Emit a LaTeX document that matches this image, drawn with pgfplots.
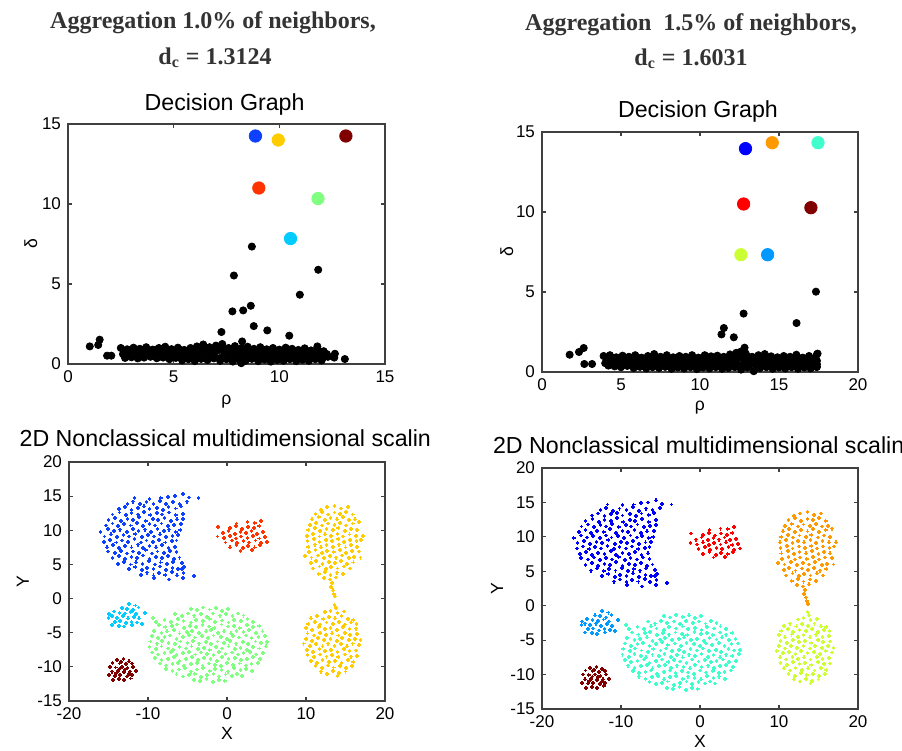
\documentclass[border=0pt]{standalone}
\usepackage{pgfplots}
\usepackage{pgfplotstable}
\pgfplotsset{compat=1.18}
\usepackage{fontspec}
\setmainfont{Liberation Sans}
\newfontfamily\headfont{Liberation Serif}

% left column colours
\definecolor{cblue}{rgb}{0.05,0.25,1}
\definecolor{cyel}{rgb}{1,0.8,0}
\definecolor{cdred}{rgb}{0.5,0,0}
\definecolor{cred}{rgb}{1,0.2,0}
\definecolor{cgreen}{rgb}{0.5,1,0.5}
\definecolor{ccyan}{rgb}{0,0.8,1}
% right column colours
\definecolor{bblue}{rgb}{0,0,1}
\definecolor{borange}{rgb}{1,0.6,0}
\definecolor{baqua}{rgb}{0.25,1,0.8}
\definecolor{bred}{rgb}{1,0,0}
\definecolor{bygreen}{rgb}{0.8,1,0.2}
\definecolor{blblue}{rgb}{0,0.6,1}
\definecolor{headgray}{rgb}{0.2,0.2,0.2}

\pgfplotsset{
  mat/.style={
    scale only axis, anchor=north west,
    axis line style={line width=0.7pt, black!75},
    every tick/.style={line width=0.6pt, black!75},
    major tick length=2pt,
    tick align=inside,
    ticklabel style={font=\fontsize{8.5}{10}\selectfont},
    /pgf/number format/assume math mode=true,
    label style={font=\fontsize{8.8}{10}\selectfont},
  },
  dg/.style={only marks, mark=*, mark size=1.8pt, black},
  ctr/.style={only marks, mark=*, mark size=3.1pt, color=#1, mark options={draw=#1, fill=#1}},
  mds/.style={only marks, mark=+, mark size=0.95pt, color=#1, mark options={line width=0.85pt}},
}

% ---------- decision graph, 1.0% ----------
\pgfplotstableread[row sep=\\]{
x y\\
2.5 1.00\\ 2.8 0.92\\ 3.1 1.02\\ 3.4 0.95\\ 3.7 1.05\\ 4.0 0.90\\ 4.3 1.00\\ 4.6 1.08\\ 4.9 0.93\\ 5.2 1.02\\ 5.5 0.88\\
5.8 1.00\\ 6.1 1.10\\ 6.4 1.22\\ 6.7 1.05\\ 7.0 1.15\\ 7.3 1.25\\ 7.6 1.00\\ 7.9 1.12\\ 8.2 0.98\\ 8.5 1.08\\ 8.8 0.95\\
9.1 1.05\\ 9.4 0.92\\ 9.7 1.00\\ 10.0 0.90\\ 10.3 1.02\\ 10.6 0.95\\ 10.9 0.88\\ 11.2 0.98\\ 11.5 0.85\\ 11.8 0.92\\ 12.1 0.80\\
2.65 0.82\\ 2.95 0.85\\ 3.25 0.78\\ 3.55 0.86\\ 3.85 0.80\\ 4.15 0.88\\ 4.45 0.78\\ 4.75 0.84\\ 5.05 0.80\\ 5.35 0.86\\ 5.65 0.78\\
5.95 0.90\\ 6.25 0.95\\ 6.55 1.00\\ 6.85 0.92\\ 7.15 1.02\\ 7.45 0.90\\ 7.75 0.95\\ 8.05 0.85\\ 8.35 0.92\\ 8.65 0.82\\ 8.95 0.86\\
9.25 0.80\\ 9.55 0.85\\ 9.85 0.78\\ 10.15 0.82\\ 10.45 0.76\\ 10.75 0.80\\ 11.05 0.74\\ 11.35 0.78\\ 11.65 0.70\\ 11.95 0.75\\ 12.25 0.62\\
2.6 0.62\\ 2.9 0.70\\ 3.2 0.55\\ 3.5 0.68\\ 3.8 0.60\\ 4.1 0.72\\ 4.4 0.58\\ 4.7 0.66\\ 5.0 0.55\\ 5.3 0.70\\ 5.6 0.62\\
5.9 0.75\\ 6.2 0.58\\ 6.5 0.80\\ 6.8 0.65\\ 7.1 0.85\\ 7.4 0.70\\ 7.7 0.78\\ 8.0 0.62\\ 8.3 0.74\\ 8.6 0.60\\ 8.9 0.68\\
9.2 0.55\\ 9.5 0.66\\ 9.8 0.58\\ 10.1 0.64\\ 10.4 0.52\\ 10.7 0.62\\ 11.0 0.55\\ 11.3 0.60\\ 11.6 0.50\\ 11.9 0.58\\ 12.3 0.45\\
2.75 0.50\\ 3.05 0.55\\ 3.35 0.48\\ 3.65 0.52\\ 3.95 0.55\\ 4.25 0.50\\ 4.55 0.52\\ 4.85 0.45\\ 5.15 0.48\\ 5.45 0.42\\ 5.75 0.48\\
6.05 0.40\\ 6.35 0.46\\ 6.65 0.42\\ 6.95 0.50\\ 7.25 0.40\\ 7.55 0.48\\ 7.85 0.38\\ 8.15 0.45\\ 8.45 0.40\\ 8.75 0.46\\ 9.05 0.38\\
9.35 0.44\\ 9.65 0.36\\ 9.95 0.42\\ 10.25 0.38\\ 10.55 0.44\\ 10.85 0.36\\ 11.15 0.42\\ 11.45 0.35\\ 11.75 0.40\\ 12.05 0.36\\
2.7 0.38\\ 3.0 0.42\\ 3.3 0.35\\ 3.6 0.40\\ 3.9 0.45\\ 4.2 0.36\\ 4.5 0.40\\ 4.8 0.30\\ 5.1 0.38\\ 5.4 0.22\\ 5.7 0.30\\
6.0 0.18\\ 6.3 0.32\\ 6.6 0.25\\ 6.9 0.35\\ 7.2 0.20\\ 7.5 0.30\\ 7.8 0.15\\ 8.1 0.28\\ 8.2 0.05\\ 8.4 0.20\\ 8.7 0.32\\
9.0 0.18\\ 9.3 0.28\\ 9.6 0.15\\ 9.9 0.25\\ 10.2 0.20\\ 10.5 0.30\\ 10.8 0.18\\ 11.1 0.26\\ 11.4 0.20\\ 11.7 0.30\\ 12.0 0.22\\
8.70 7.34\\ 7.85 5.53\\ 11.84 5.89\\ 10.97 4.33\\ 7.78 3.29\\ 8.29 3.35\\ 8.65 3.64\\ 8.79 2.37\\ 9.43 2.10\\ 7.26 2.00\\
10.47 1.77\\ 8.24 1.41\\ 11.80 1.10\\ 1.50 1.52\\ 1.03 1.10\\ 1.43 1.19\\ 1.85 0.52\\ 2.05 0.52\\ 12.63 0.64\\ 13.10 0.31\\ 12.6 0.40\\
}\tlband

% ---------- decision graph, 1.5% ----------
\pgfplotstableread[row sep=\\]{
x y\\
3.9 1.00\\ 4.3 1.05\\ 4.7 0.92\\ 5.1 1.02\\ 5.5 0.95\\ 5.9 1.05\\ 6.3 0.90\\ 6.7 1.00\\ 7.1 1.12\\ 7.5 0.95\\ 7.9 1.05\\ 8.3 0.92\\
8.7 1.00\\ 9.1 0.95\\ 9.5 1.05\\ 9.9 0.90\\ 10.3 1.05\\ 10.7 0.98\\ 11.1 1.02\\ 11.5 0.95\\ 11.9 1.10\\ 12.3 1.20\\ 12.6 1.28\\ 12.9 1.15\\
13.3 0.95\\ 13.7 1.05\\ 14.1 1.12\\ 14.5 0.98\\ 14.9 0.92\\ 15.3 1.00\\ 15.7 0.95\\ 16.1 1.08\\ 16.5 0.90\\ 16.9 1.00\\ 17.4 1.10\\
4.1 0.80\\ 4.5 0.85\\ 4.9 0.78\\ 5.3 0.86\\ 5.7 0.80\\ 6.1 0.88\\ 6.5 0.78\\ 6.9 0.84\\ 7.3 0.80\\ 7.7 0.86\\ 8.1 0.78\\ 8.5 0.88\\
8.9 0.80\\ 9.3 0.84\\ 9.7 0.78\\ 10.1 0.86\\ 10.5 0.80\\ 10.9 0.88\\ 11.3 0.82\\ 11.7 0.90\\ 12.1 0.98\\ 12.5 1.05\\ 12.9 0.92\\ 13.3 0.80\\
13.7 0.86\\ 14.1 0.82\\ 14.5 0.84\\ 14.9 0.78\\ 15.3 0.82\\ 15.7 0.76\\ 16.1 0.84\\ 16.5 0.78\\ 16.9 0.82\\ 17.3 0.88\\
4.0 0.55\\ 4.4 0.68\\ 4.8 0.60\\ 5.2 0.72\\ 5.6 0.58\\ 6.0 0.66\\ 6.4 0.55\\ 6.8 0.70\\ 7.2 0.62\\ 7.6 0.75\\ 8.0 0.58\\ 8.4 0.66\\
8.8 0.55\\ 9.2 0.70\\ 9.6 0.62\\ 10.0 0.68\\ 10.4 0.55\\ 10.8 0.72\\ 11.2 0.60\\ 11.6 0.70\\ 12.0 0.78\\ 12.4 0.85\\ 12.8 0.70\\ 13.2 0.62\\
13.6 0.70\\ 14.0 0.58\\ 14.4 0.66\\ 14.8 0.55\\ 15.2 0.62\\ 15.6 0.52\\ 16.0 0.60\\ 16.4 0.55\\ 16.8 0.62\\ 17.2 0.58\\ 17.4 0.70\\
4.3 0.45\\ 4.7 0.50\\ 5.1 0.42\\ 5.5 0.48\\ 5.9 0.44\\ 6.3 0.50\\ 6.7 0.40\\ 7.1 0.46\\ 7.5 0.42\\ 7.9 0.48\\ 8.3 0.40\\ 8.7 0.46\\
9.1 0.42\\ 9.5 0.48\\ 9.9 0.40\\ 10.3 0.46\\ 10.7 0.42\\ 11.1 0.48\\ 11.5 0.40\\ 11.9 0.46\\ 12.3 0.52\\ 12.7 0.45\\ 13.1 0.40\\ 13.5 0.44\\
13.9 0.40\\ 14.3 0.46\\ 14.7 0.40\\ 15.1 0.44\\ 15.5 0.38\\ 15.9 0.44\\ 16.3 0.40\\ 16.7 0.44\\ 17.1 0.40\\ 17.4 0.48\\
4.2 0.40\\ 4.6 0.35\\ 5.0 0.30\\ 5.4 0.38\\ 5.8 0.25\\ 6.2 0.32\\ 6.6 0.22\\ 7.0 0.30\\ 7.4 0.25\\ 7.8 0.32\\ 8.2 0.20\\ 8.6 0.28\\
9.0 0.22\\ 9.4 0.30\\ 9.8 0.18\\ 10.2 0.28\\ 10.6 0.22\\ 11.0 0.30\\ 11.4 0.20\\ 11.8 0.25\\ 12.2 0.30\\ 12.6 0.15\\ 13.0 0.28\\ 13.4 0.05\\
13.8 0.25\\ 14.2 0.30\\ 14.6 0.20\\ 15.0 0.28\\ 15.4 0.22\\ 15.8 0.30\\ 16.2 0.20\\ 16.6 0.28\\ 17.0 0.22\\ 17.4 0.32\\
17.34 5.02\\ 12.76 3.65\\ 16.11 3.06\\ 11.51 2.75\\ 11.36 2.35\\ 12.14 2.17\\ 12.82 1.52\\ 1.75 1.08\\ 2.34 1.25\\ 2.64 1.50\\
2.68 0.50\\ 3.17 0.50\\ 17.44 1.15\\ 17.38 0.31\\
}\trband

% ---------- MDS clusters (same points in both runs) ----------
\pgfplotstableread[row sep=\\]{
x y\\
-11.7 14.7\\ -9.8 14.6\\ -8.4 14.7\\ -7.5 14.9\\ -6.6 15.0\\ -5.6 15.3\\ -4.8 14.8\\ -3.6 14.7\\
-12.6 13.9\\ -11.9 14.2\\ -11.0 13.8\\ -10.2 14.1\\ -9.3 13.9\\ -8.5 14.3\\ -7.7 13.8\\ -6.8 14.1\\ -6.0 13.9\\ -5.1 14.2\\
-13.7 13.1\\ -12.9 13.4\\ -12.1 13.0\\ -11.3 13.3\\ -10.5 13.5\\ -9.8 13.1\\ -8.9 13.3\\ -8.1 13.0\\ -7.4 13.4\\ -6.5 13.2\\ -5.8 13.5\\
-14.5 12.3\\ -13.6 12.6\\ -12.8 12.2\\ -12.1 12.5\\ -11.3 12.3\\ -10.5 12.7\\ -9.7 12.2\\ -8.9 12.5\\ -8.2 12.3\\ -7.3 12.6\\ -6.5 12.2\\ -5.6 12.4\\
-15.0 11.5\\ -14.2 11.8\\ -13.4 11.4\\ -12.6 11.7\\ -11.9 11.5\\ -11.1 11.9\\ -10.3 11.4\\ -9.4 11.7\\ -8.7 11.5\\ -7.9 11.8\\ -7.1 11.4\\ -6.3 11.6\\ -5.6 11.7\\
-15.3 10.7\\ -14.5 11.0\\ -13.8 10.6\\ -13.0 10.9\\ -12.2 10.7\\ -11.4 11.1\\ -10.6 10.6\\ -9.8 10.9\\ -9.1 10.7\\ -8.3 11.0\\ -7.5 10.6\\ -6.7 10.8\\ -5.8 10.9\\
-16.0 9.8\\ -15.1 10.2\\ -14.3 9.9\\ -13.5 10.1\\ -12.7 9.8\\ -11.9 10.2\\ -11.2 9.9\\ -10.4 10.1\\ -9.6 9.8\\ -8.8 10.2\\ -8.0 9.9\\ -7.3 10.1\\ -6.5 9.8\\ -5.9 10.0\\
-15.5 9.1\\ -14.7 9.4\\ -13.9 9.0\\ -13.1 9.3\\ -12.4 9.1\\ -11.6 9.5\\ -10.8 9.0\\ -10.0 9.3\\ -9.2 9.1\\ -8.5 9.4\\ -7.7 9.0\\ -6.9 9.2\\ -6.2 9.3\\
-15.6 8.3\\ -14.8 8.6\\ -14.0 8.2\\ -13.3 8.5\\ -12.5 8.3\\ -11.7 8.7\\ -10.9 8.2\\ -10.2 8.5\\ -9.4 8.3\\ -8.6 8.6\\ -7.8 8.2\\ -7.0 8.4\\ -6.4 8.5\\
-15.2 7.5\\ -14.4 7.8\\ -13.7 7.4\\ -12.9 7.7\\ -12.1 7.5\\ -11.3 7.9\\ -10.6 7.4\\ -9.8 7.7\\ -9.0 7.5\\ -8.2 7.8\\ -7.4 7.4\\ -6.6 7.6\\
-15.1 6.9\\ -14.2 6.7\\ -13.4 7.0\\ -12.7 6.6\\ -11.9 6.9\\ -11.1 6.7\\ -10.3 7.1\\ -9.5 6.6\\ -8.8 6.9\\ -8.0 6.7\\ -7.2 7.0\\ -6.4 6.8\\
-14.5 5.9\\ -13.7 6.2\\ -12.9 5.8\\ -12.1 6.1\\ -11.4 5.9\\ -10.6 6.3\\ -9.8 5.8\\ -9.0 6.1\\ -8.2 5.9\\ -7.5 6.2\\ -6.7 5.8\\ -6.0 6.0\\
-13.8 5.1\\ -13.0 5.4\\ -12.2 5.0\\ -11.5 5.3\\ -10.7 5.1\\ -9.9 5.5\\ -9.1 5.0\\ -8.4 5.3\\ -7.6 5.1\\ -6.8 5.4\\ -5.7 5.2\\
-12.4 4.3\\ -11.6 4.6\\ -10.8 4.2\\ -10.1 4.5\\ -9.3 4.3\\ -8.5 4.7\\ -7.7 4.2\\ -6.9 4.5\\ -6.2 4.3\\ -5.4 4.6\\ -5.7 4.3\\
-10.9 3.5\\ -10.1 3.8\\ -9.3 3.4\\ -8.6 3.7\\ -7.8 3.5\\ -7.0 3.9\\ -6.3 3.4\\ -5.5 3.7\\ -4.2 3.3\\
-9.2 3.0\\ -7.3 2.8\\ -5.6 3.0\\
}\cblueT

\pgfplotstableread[row sep=\\]{
x y\\
1.2 11.0\\ 2.6 11.2\\ 3.5 11.1\\ 4.3 11.4\\
-1.1 10.5\\ 0.4 10.3\\ 1.1 10.6\\ 1.9 10.2\\ 2.7 10.5\\ 3.4 10.3\\ 4.1 10.6\\
-0.5 9.6\\ 0.2 9.9\\ 1.0 9.5\\ 1.7 9.8\\ 2.4 9.6\\ 3.1 9.9\\ 3.8 9.5\\ 4.6 9.7\\
-1.2 9.1\\ -0.4 8.9\\ 0.4 9.2\\ 1.1 8.8\\ 1.8 9.1\\ 2.6 8.9\\ 3.3 9.2\\ 4.1 8.8\\ 4.8 9.0\\
-0.2 8.2\\ 0.6 8.5\\ 1.3 8.1\\ 2.1 8.4\\ 2.8 8.2\\ 3.6 8.5\\ 4.3 8.1\\ 5.1 8.3\\
0.4 7.5\\ 1.2 7.8\\ 2.0 7.4\\ 2.7 7.7\\ 3.5 7.5\\ 4.2 7.8\\
1.7 7.0\\ 3.2 7.1\\
}\credT

\pgfplotstableread[row sep=\\]{
x y\\
11.9 13.0\\ 12.7 13.4\\ 13.6 13.6\\ 14.4 13.2\\ 15.3 13.4\\
11.2 12.4\\ 12.0 12.7\\ 12.8 12.3\\ 13.6 12.6\\ 14.3 12.4\\ 15.1 12.7\\ 15.9 12.3\\
10.8 11.6\\ 11.6 11.9\\ 12.4 11.5\\ 13.1 11.8\\ 13.9 11.6\\ 14.7 11.9\\ 15.4 11.5\\ 16.2 11.6\\
10.5 10.8\\ 11.3 11.1\\ 12.0 10.7\\ 12.8 11.0\\ 13.6 10.8\\ 14.3 11.1\\ 15.1 10.7\\ 15.9 11.0\\ 16.7 11.2\\
10.3 10.0\\ 11.1 10.3\\ 11.8 9.9\\ 12.6 10.2\\ 13.4 10.0\\ 14.1 10.3\\ 14.9 9.9\\ 15.7 10.2\\ 16.5 10.0\\
10.1 9.2\\ 10.9 9.5\\ 11.7 9.1\\ 12.4 9.4\\ 13.2 9.2\\ 14.0 9.5\\ 14.7 9.1\\ 15.5 9.4\\ 16.3 9.2\\ 17.2 9.2\\
10.2 8.4\\ 11.0 8.7\\ 11.7 8.3\\ 12.5 8.6\\ 13.3 8.4\\ 14.1 8.7\\ 14.8 8.3\\ 15.6 8.6\\ 16.4 8.4\\ 17.0 8.6\\
10.3 7.6\\ 11.1 7.9\\ 11.9 7.5\\ 12.6 7.8\\ 13.4 7.6\\ 14.2 7.9\\ 15.0 7.5\\ 15.7 7.8\\ 16.5 7.6\\
10.4 6.8\\ 11.2 7.1\\ 12.0 6.7\\ 12.7 7.0\\ 13.5 6.8\\ 14.3 7.1\\ 15.1 6.7\\ 15.8 7.0\\ 16.7 6.9\\
9.9 6.2\\ 10.7 6.0\\ 11.5 6.3\\ 12.3 5.9\\ 13.0 6.2\\ 13.8 6.0\\ 14.6 6.3\\ 15.4 5.9\\ 16.1 6.1\\ 16.9 6.0\\
10.6 5.2\\ 11.3 5.5\\ 12.1 5.1\\ 12.9 5.4\\ 13.7 5.2\\ 14.4 5.5\\ 15.2 5.1\\ 16.0 5.3\\
10.9 4.4\\ 11.7 4.7\\ 12.5 4.3\\ 13.2 4.6\\ 14.0 4.4\\ 14.8 4.7\\ 15.6 4.4\\
11.6 3.6\\ 12.4 3.9\\ 13.1 3.5\\ 13.9 3.8\\ 14.7 3.6\\
12.3 3.0\\ 13.0 2.8\\ 13.8 3.1\\
13.3 2.3\\ 13.2 1.7\\ 13.4 1.2\\ 13.5 0.7\\ 13.7 0.3\\
}\ctopR

\pgfplotstableread[row sep=\\]{
x y\\
13.6 -0.9\\ 13.8 -1.4\\
12.4 -2.0\\ 13.1 -1.8\\ 14.0 -2.1\\ 14.8 -1.9\\
10.6 -2.9\\ 11.4 -2.6\\ 12.2 -3.0\\ 12.9 -2.7\\ 13.7 -2.9\\ 14.5 -2.6\\ 15.3 -3.0\\ 16.0 -3.1\\
10.3 -3.7\\ 11.1 -3.4\\ 11.8 -3.8\\ 12.6 -3.5\\ 13.4 -3.7\\ 14.2 -3.4\\ 14.9 -3.8\\ 15.7 -3.5\\ 16.4 -3.7\\
10.0 -4.3\\ 10.8 -4.6\\ 11.6 -4.2\\ 12.4 -4.5\\ 13.1 -4.3\\ 13.9 -4.6\\ 14.7 -4.2\\ 15.5 -4.5\\ 16.3 -4.4\\
10.2 -5.1\\ 11.0 -5.4\\ 11.8 -5.0\\ 12.5 -5.3\\ 13.3 -5.1\\ 14.1 -5.4\\ 14.9 -5.0\\ 15.6 -5.3\\ 16.5 -5.2\\
10.0 -5.9\\ 10.8 -6.2\\ 11.5 -5.8\\ 12.3 -6.1\\ 13.1 -5.9\\ 13.9 -6.2\\ 14.6 -5.8\\ 15.4 -6.1\\ 16.2 -5.9\\ 16.9 -6.1\\
9.7 -6.6\\ 10.5 -6.9\\ 11.3 -6.7\\ 12.1 -7.0\\ 12.8 -6.6\\ 13.6 -6.9\\ 14.4 -6.7\\ 15.2 -7.0\\ 15.9 -6.6\\ 16.7 -6.8\\
10.1 -7.5\\ 10.9 -7.8\\ 11.7 -7.4\\ 12.4 -7.7\\ 13.2 -7.5\\ 14.0 -7.8\\ 14.8 -7.4\\ 15.5 -7.7\\ 16.3 -7.6\\
10.2 -8.3\\ 11.0 -8.6\\ 11.8 -8.2\\ 12.6 -8.5\\ 13.3 -8.3\\ 14.1 -8.6\\ 14.9 -8.2\\ 15.7 -8.5\\ 16.5 -8.4\\
10.6 -9.1\\ 11.4 -9.4\\ 12.1 -9.0\\ 12.9 -9.3\\ 13.7 -9.1\\ 14.5 -9.4\\ 15.3 -9.0\\ 16.0 -9.3\\
11.2 -9.9\\ 12.0 -10.2\\ 12.8 -9.8\\ 13.5 -10.1\\ 14.3 -9.9\\ 15.1 -10.2\\ 15.8 -9.9\\
11.9 -10.7\\ 12.7 -11.0\\ 13.4 -10.6\\ 14.2 -10.9\\ 15.0 -10.7\\
14.0 -11.3\\
}\cbotR

\pgfplotstableread[row sep=\\]{
x y\\
-12.4 -0.8\\ -11.6 -1.0\\ -13.3 -1.4\\ -12.7 -1.5\\ -11.9 -1.7\\ -11.2 -1.3\\ -14.3 -1.9\\ -13.6 -2.1\\ -12.9 -2.2\\ -12.2 -2.0\\
-11.5 -2.3\\ -10.4 -2.1\\ -15.0 -2.8\\ -14.6 -2.6\\ -13.9 -2.8\\ -13.2 -2.6\\ -12.5 -2.9\\ -11.8 -2.7\\ -11.1 -2.9\\ -14.2 -3.4\\
-13.5 -3.3\\ -12.8 -3.6\\ -12.1 -3.4\\ -11.4 -3.5\\ -10.8 -3.7\\ -14.6 -3.9\\ -13.7 -4.0\\ -13.0 -4.1\\ -12.0 -3.9\\ -14.9 -2.3\\
}\csmall

\pgfplotstableread[row sep=\\]{
x y\\
-13.9 -9.0\\ -13.1 -8.9\\ -12.4 -9.2\\ -14.5 -9.4\\ -13.6 -9.5\\ -12.8 -9.6\\ -12.0 -9.5\\ -14.8 -10.0\\ -14.1 -10.1\\ -13.3 -10.0\\
-12.6 -10.2\\ -11.9 -10.0\\ -11.5 -10.6\\ -14.6 -10.7\\ -13.8 -10.6\\ -13.0 -10.8\\ -12.3 -10.7\\ -14.9 -11.2\\ -14.2 -11.3\\ -13.5 -11.2\\
-12.7 -11.4\\ -12.0 -11.2\\ -14.4 -11.9\\ -13.7 -11.8\\ -13.0 -11.9\\ -12.2 -11.7\\ -13.4 -9.3\\ -12.9 -10.4\\ -13.6 -10.3\\ -14.0 -10.9\\ -12.4 -11.0\\
}\cdr

\pgfplotstableread[row sep=\\]{
x y\\
-4.6 -1.5\\ -3.8 -1.7\\ -3.0 -1.3\\ -2.2 -1.6\\ -1.4 -1.4\\ -0.6 -1.8\\ 0.1 -1.5\\
-6.6 -2.3\\ -5.7 -2.6\\ -4.9 -2.2\\ -4.2 -2.5\\ -3.3 -2.3\\ -2.5 -2.7\\ -1.8 -2.2\\ -0.9 -2.5\\ -0.1 -2.3\\ 0.7 -2.6\\ 1.4 -2.2\\ 2.1 -2.5\\
-9.4 -2.8\\ -9.0 -3.4\\
-7.9 -3.1\\ -7.1 -3.4\\ -6.2 -3.0\\ -5.5 -3.3\\ -4.6 -3.5\\ -3.9 -3.1\\ -3.0 -3.3\\ -2.2 -3.0\\ -1.5 -3.4\\ -0.6 -3.2\\ 0.2 -3.5\\ 0.9 -3.1\\ 1.8 -3.3\\ 2.6 -3.0\\ 3.3 -3.4\\
-8.6 -3.9\\ -7.8 -4.2\\ -7.0 -4.0\\ -6.3 -3.8\\ -5.4 -4.3\\ -4.7 -4.0\\ -3.9 -4.2\\ -3.1 -3.9\\ -2.3 -4.1\\ -1.6 -4.3\\ -0.7 -3.8\\ 0.1 -4.1\\ 0.9 -4.0\\ 1.6 -4.3\\ 2.5 -3.9\\ 3.3 -4.2\\ 4.1 -4.0\\
-9.2 -4.7\\ -8.3 -5.0\\ -7.6 -4.8\\ -6.7 -4.6\\ -6.0 -5.1\\ -5.1 -4.9\\ -4.4 -4.7\\ -3.5 -5.0\\ -2.7 -4.8\\ -2.0 -4.6\\ -1.1 -5.0\\ -0.4 -4.8\\ 0.5 -5.1\\ 1.2 -4.7\\ 2.1 -4.9\\ 2.8 -4.6\\ 3.7 -5.0\\ 4.5 -4.8\\
-9.5 -5.5\\ -8.7 -5.8\\ -7.9 -5.6\\ -7.2 -5.4\\ -6.4 -5.9\\ -5.6 -5.6\\ -4.8 -5.3\\ -4.1 -5.7\\ -3.2 -5.5\\ -2.4 -5.8\\ -1.7 -5.4\\ -0.8 -5.6\\ 0.0 -5.9\\ 0.8 -5.5\\ 1.5 -5.7\\ 2.4 -5.4\\ 3.1 -5.8\\ 4.0 -5.6\\ 4.8 -5.5\\
-9.7 -6.3\\ -8.9 -6.6\\ -8.2 -6.2\\ -7.4 -6.5\\ -6.6 -6.7\\ -5.9 -6.3\\ -5.0 -6.5\\ -4.3 -6.2\\ -3.5 -6.6\\ -2.7 -6.4\\ -2.0 -6.7\\ -1.2 -6.3\\ -0.4 -6.5\\ 0.4 -6.2\\ 1.1 -6.6\\ 2.0 -6.4\\ 2.7 -6.7\\ 3.6 -6.3\\ 4.3 -6.5\\ 5.1 -6.4\\
-9.8 -7.1\\ -9.0 -7.4\\ -8.3 -7.0\\ -7.5 -7.3\\ -6.8 -7.5\\ -6.0 -7.1\\ -5.2 -7.3\\ -4.5 -7.0\\ -3.7 -7.4\\ -2.9 -7.2\\ -2.2 -7.5\\ -1.4 -7.1\\ -0.6 -7.3\\ 0.2 -7.0\\ 1.0 -7.4\\ 1.7 -7.2\\ 2.5 -7.5\\ 3.3 -7.1\\ 4.1 -7.3\\ 4.9 -7.0\\
-9.5 -7.9\\ -8.7 -8.2\\ -7.9 -8.0\\ -7.1 -7.8\\ -6.4 -8.3\\ -5.6 -8.0\\ -4.8 -7.8\\ -4.0 -8.2\\ -3.3 -7.9\\ -2.5 -8.1\\ -1.7 -8.3\\ -1.0 -7.8\\ -0.2 -8.1\\ 0.6 -7.9\\ 1.4 -8.2\\ 2.1 -8.0\\ 2.9 -7.8\\ 3.7 -8.2\\ 4.6 -8.0\\
-9.1 -8.7\\ -8.3 -9.0\\ -7.5 -8.8\\ -6.7 -8.6\\ -6.0 -9.1\\ -5.2 -8.8\\ -4.4 -8.6\\ -3.7 -9.0\\ -2.9 -8.7\\ -2.1 -8.9\\ -1.3 -9.1\\ -0.6 -8.6\\ 0.2 -8.9\\ 1.0 -8.7\\ 1.8 -9.0\\ 2.5 -8.8\\ 3.3 -8.6\\ 4.2 -8.9\\
-8.5 -9.5\\ -7.7 -9.8\\ -6.9 -9.6\\ -6.2 -9.4\\ -5.4 -9.9\\ -4.6 -9.6\\ -3.8 -9.4\\ -3.1 -9.8\\ -2.3 -9.5\\ -1.5 -9.7\\ -0.8 -9.9\\ 0.0 -9.4\\ 0.8 -9.7\\ 1.6 -9.5\\ 2.4 -9.8\\ 3.1 -9.6\\ 3.9 -9.4\\
-7.7 -10.3\\ -6.9 -10.6\\ -6.1 -10.4\\ -5.3 -10.2\\ -4.6 -10.7\\ -3.8 -10.4\\ -3.0 -10.2\\ -2.2 -10.6\\ -1.5 -10.3\\ -0.7 -10.5\\ 0.1 -10.7\\ 0.9 -10.2\\ 1.7 -10.5\\ 2.4 -10.3\\ 3.2 -10.6\\
-6.4 -11.1\\ -5.6 -11.4\\ -4.8 -11.2\\ -4.1 -11.0\\ -3.3 -11.5\\ -2.5 -11.2\\ -1.7 -11.0\\ -1.0 -11.4\\ -0.2 -11.1\\ 0.6 -11.3\\ 1.3 -11.0\\ 1.9 -11.3\\
-4.2 -11.9\\ -3.4 -12.1\\ -2.6 -11.8\\ -1.8 -12.2\\ -1.0 -11.9\\ -0.3 -12.1\\
}\cbig

\begin{document}
\begin{tikzpicture}
\useasboundingbox (0,0) rectangle (451pt,-375.5pt);

% headings
\begin{scope}[every node/.style={anchor=base, text=headgray, font=\headfont\bfseries\fontsize{12}{14}\selectfont}]
\node at (106.5pt,-14pt) {Aggregation 1.0\% of neighbors,};
\node at (107.5pt,-32pt) {d\textsubscript{c} = 1.3124};
\node at (345.5pt,-15pt) {Aggregation~~1.5\% of neighbors,};
\node at (345.5pt,-32.5pt) {d\textsubscript{c} = 1.6031};
\end{scope}
\begin{scope}[every node/.style={font=\fontsize{11.6}{13}\selectfont}]
\node[anchor=base] at (112.3pt,-55.3pt) {Decision Graph};
\node[anchor=base] at (349pt,-58.7pt) {Decision Graph};
\node[anchor=base west] at (6.3pt,-223.3pt) {2D Nonclassical multidimensional scalin};
\node[anchor=base west] at (243pt,-226.7pt) {2D Nonclassical multidimensional scalin};
\end{scope}

% top left: decision graph 1.0%
\begin{axis}[mat, at={(34pt,-62pt)}, width=158.5pt, height=120pt,
  xmin=0, xmax=15, ymin=0, ymax=15,
  xtick={0,5,10,15}, ytick={0,5,10,15},
  xlabel={ρ}, ylabel={δ},
  xlabel style={at={(axis description cs:0.5,-0.1575)}, anchor=center},
  ylabel style={at={(axis description cs:-0.117,0.5)}, anchor=center}]
\addplot[dg] table {\tlband};
\addplot[ctr=cblue] coordinates {(8.87,14.25)};
\addplot[ctr=cyel] coordinates {(9.95,14.0)};
\addplot[ctr=cdred] coordinates {(13.15,14.25)};
\addplot[ctr=cred] coordinates {(9.03,11.0)};
\addplot[ctr=cgreen] coordinates {(11.83,10.34)};
\addplot[ctr=ccyan] coordinates {(10.53,7.84)};
\end{axis}

% top right: decision graph 1.5%
\begin{axis}[mat, at={(271pt,-66pt)}, width=158pt, height=120pt,
  xmin=0, xmax=20, ymin=0, ymax=15,
  xtick={0,5,10,15,20}, ytick={0,5,10,15},
  xlabel={ρ}, ylabel={δ},
  xlabel style={at={(axis description cs:0.5,-0.15)}, anchor=center},
  ylabel style={at={(axis description cs:-0.111,0.5)}, anchor=center}]
\addplot[dg] table {\trband};
\addplot[ctr=bblue] coordinates {(12.88,13.96)};
\addplot[ctr=borange] coordinates {(14.57,14.33)};
\addplot[ctr=baqua] coordinates {(17.47,14.33)};
\addplot[ctr=bred] coordinates {(12.76,10.5)};
\addplot[ctr=cdred] coordinates {(17.02,10.27)};
\addplot[ctr=bygreen] coordinates {(12.59,7.33)};
\addplot[ctr=blblue] coordinates {(14.28,7.33)};
\end{axis}

% bottom left: MDS 1.0%
\begin{axis}[mat, at={(34.5pt,-231pt)}, width=158pt, height=119.5pt,
  xmin=-20, xmax=20, ymin=-15, ymax=20,
  xtick={-20,-10,0,10,20}, ytick={-15,-10,-5,0,5,10,15,20},
  xlabel={X}, ylabel={Y},
  xlabel style={at={(axis description cs:0.5,-0.134)}, anchor=center},
  ylabel style={at={(axis description cs:-0.146,0.5)}, anchor=center}]
\addplot[mds=cblue] table {\cblueT};
\addplot[mds=cred] table {\credT};
\addplot[mds=cyel] table {\ctopR};
\addplot[mds=cyel] table {\cbotR};
\addplot[mds=ccyan] table {\csmall};
\addplot[mds=cdred] table {\cdr};
\addplot[mds=cgreen] table {\cbig};
\end{axis}

% bottom right: MDS 1.5%
\begin{axis}[mat, at={(271pt,-234pt)}, width=158pt, height=120.5pt,
  xmin=-20, xmax=20, ymin=-15, ymax=20,
  xtick={-20,-10,0,10,20}, ytick={-15,-10,-5,0,5,10,15,20},
  xlabel={X}, ylabel={Y},
  xlabel style={at={(axis description cs:0.5,-0.135)}, anchor=center},
  ylabel style={at={(axis description cs:-0.142,0.5)}, anchor=center}]
\addplot[mds=bblue] table {\cblueT};
\addplot[mds=bred] table {\credT};
\addplot[mds=borange] table {\ctopR};
\addplot[mds=bygreen] table {\cbotR};
\addplot[mds=blblue] table {\csmall};
\addplot[mds=cdred] table {\cdr};
\addplot[mds=baqua] table {\cbig};
\end{axis}
\end{tikzpicture}
\end{document}
